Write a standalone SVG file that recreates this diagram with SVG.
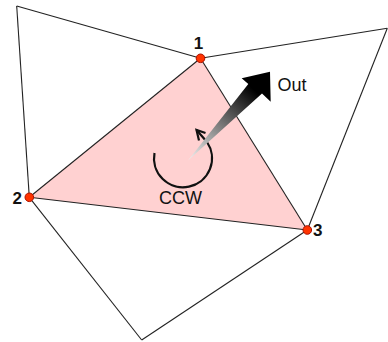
<svg xmlns="http://www.w3.org/2000/svg" width="388" height="342" viewBox="0 0 388 342">
<style>
.edge{fill:none;stroke:#222;stroke-width:1.1}
.vtx{fill:#ff3300;stroke:#aa1100;stroke-width:1}
.num{font-family:"Liberation Sans",Arial,sans-serif;font-size:17px;font-weight:bold;fill:#111}
.lbl{font-family:"Liberation Sans",Arial,sans-serif;font-size:18px;fill:#111}
</style>
<defs>
<linearGradient id="g" gradientUnits="userSpaceOnUse" x1="188" y1="160" x2="252" y2="88">
<stop offset="0" stop-color="#f2f2f2"/>
<stop offset="1" stop-color="#000"/>
</linearGradient>
</defs>
<rect width="388" height="342" fill="#fff"/>
<polygon id="face" points="200.5,58.3 29.3,197.3 307.3,230" fill="#ffd1d1"/>
<g id="connectors">
<line class="edge" x1="16.7" y1="6" x2="200.5" y2="58.3"/>
<line class="edge" x1="200.5" y1="58.3" x2="387.3" y2="28.3"/>
<line class="edge" x1="387.3" y1="28.3" x2="307.3" y2="230"/>
<line class="edge" x1="307.3" y1="230" x2="141.7" y2="340"/>
<line class="edge" x1="141.7" y1="340" x2="29.3" y2="197.3"/>
<line class="edge" x1="29.3" y1="197.3" x2="16.7" y2="6"/>
<line class="edge" x1="200.5" y1="58.3" x2="29.3" y2="197.3"/>
<line class="edge" x1="29.3" y1="197.3" x2="307.3" y2="230"/>
<line class="edge" x1="307.3" y1="230" x2="200.5" y2="58.3"/>
</g>
<g id="ccw">
<path d="M154.5,153 A29,29 0 1 0 207,142 L196.5,130" fill="none" stroke="#111" stroke-width="2.2"/>
<path d="M205.5,133 L196.5,130 L199,140.5" fill="none" stroke="#111" stroke-width="2.2"/>
<text class="lbl" x="159" y="204">CCW</text>
</g>
<g id="out">
<polygon points="188,160.5 248.3,84 241.7,78.3 270,71.7 270.7,101.7 262,93.5" fill="url(#g)"/>
<text class="lbl" x="277.5" y="91">Out</text>
</g>
<g id="v1">
<circle class="vtx" cx="200.5" cy="58.3" r="4.3"/>
<text class="num" x="198.5" y="49" text-anchor="middle">1</text>
</g>
<g id="v2">
<circle class="vtx" cx="29.3" cy="197.3" r="4.3"/>
<text class="num" x="12.5" y="204">2</text>
</g>
<g id="v3">
<circle class="vtx" cx="307.3" cy="230" r="4.3"/>
<text class="num" x="313" y="236">3</text>
</g>
</svg>
